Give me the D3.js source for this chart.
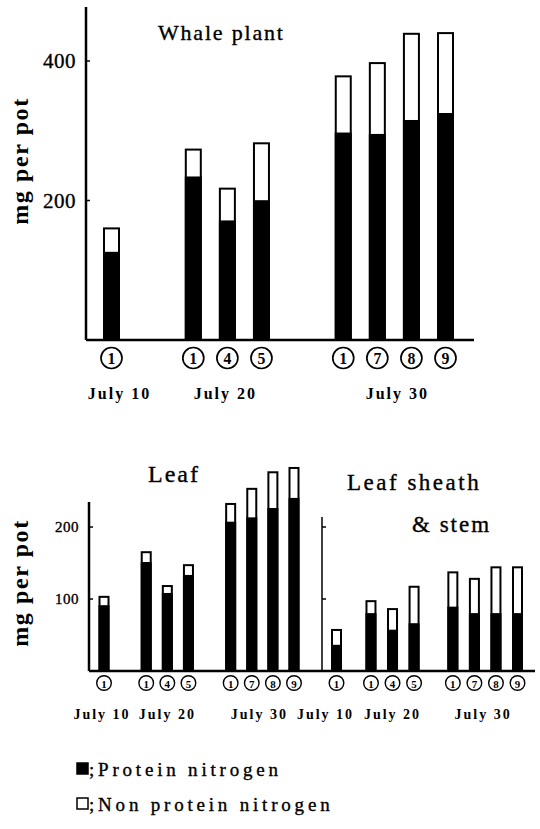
<!DOCTYPE html>
<html>
<head>
<meta charset="utf-8">
<script src="https://cdn.jsdelivr.net/npm/d3@7"></script>
<style>
  body { margin: 0; background: #fff; }
  text { font-family: "Liberation Serif", "Times New Roman", serif; fill: #000; }
  text.heavy { stroke: #000; stroke-width: 0.35px; }
</style>
</head>
<body>
<div id="chart"></div>
<script>
// dates and treatment numbers (drawn circled) for each group
const dates = ["July 10", "July 20", "July 30"];
const treatments = [[1], [1, 4, 5], [1, 7, 8, 9]];

// mg N per pot
const wholeProtein = [125, 233, 170, 199, 296, 294, 314, 324];
const wholeTotal   = [160, 273, 217, 282, 378, 397, 439, 440];
const leafProtein  = [90, 150, 107, 132, 206, 212, 225, 239];
const leafTotal    = [103, 165, 118, 147, 232, 253, 276, 282];
const sheathProtein = [35, 79, 56, 65, 88, 79, 79, 79];
const sheathTotal   = [57, 97, 86, 117, 137, 128, 144, 144];

const topTicks = [200, 400];
const bottomTicks = [100, 200];

const width = 540, height = 829;

const svg = d3.select("#chart").append("svg")
  .attr("width", width)
  .attr("height", height);

// flatten groups into bar list
const bars = [];
treatments.forEach((ts, g) => ts.forEach(t => bars.push({ group: g, label: t })));

function slots(gaps) {
  let extra = 0;
  return bars.map((b, i) => {
    if (i > 0 && bars[i - 1].group !== b.group) extra += gaps[b.group];
    return i + extra;
  });
}

function drawBars(p) {
  const pos = slots(p.gaps);
  const x = d3.scaleLinear().domain([0, d3.max(pos)]).range(p.xRange);
  const g = svg.append("g");

  bars.forEach((b, i) => {
    const cx = x(pos[i]);
    // non protein part (white box, full height)
    g.append("rect")
      .attr("x", cx - p.bw / 2)
      .attr("y", p.y(p.total[i]))
      .attr("width", p.bw)
      .attr("height", p.y(0) - p.y(p.total[i]))
      .attr("fill", "#fff")
      .attr("stroke", "#000")
      .attr("stroke-width", p.sw);
    // protein part
    g.append("rect")
      .attr("x", cx - p.bw / 2)
      .attr("y", p.y(p.protein[i]))
      .attr("width", p.bw)
      .attr("height", p.y(0) - p.y(p.protein[i]))
      .attr("fill", "#000")
      .attr("stroke", "#000")
      .attr("stroke-width", p.sw);
    // circled treatment number
    g.append("circle")
      .attr("cx", cx).attr("cy", p.labelY)
      .attr("r", p.circleR)
      .attr("fill", "none")
      .attr("stroke", "#000")
      .attr("stroke-width", p.circleR > 9 ? 1.7 : 1.4);
    g.append("text")
      .attr("x", cx)
      .attr("y", p.labelY + 0.5)
      .attr("text-anchor", "middle")
      .attr("dominant-baseline", "central")
      .style("font-size", p.circleR * 1.5 + "px")
      .style("font-weight", "bold")
      .text(b.label);
  });

  dates.forEach((d, gi) => {
    const idx = bars.map((b, i) => b.group === gi ? i : -1).filter(i => i >= 0);
    const cx = d3.mean(idx, i => x(pos[i])) + (p.dateShift[gi] || 0);
    g.append("text")
      .attr("x", cx)
      .attr("y", p.dateY)
      .attr("text-anchor", "middle")
      .attr("dominant-baseline", "central")
      .style("font-size", p.dateSize + "px")
      .style("font-weight", "bold")
      .style("letter-spacing", p.dateSpacing + "px")
      .text(d);
  });
}

function yAxis(y, x0, yTop, ticks, labels, fs, sw) {
  const g = svg.append("g");
  g.append("line")
    .attr("x1", x0).attr("x2", x0)
    .attr("y1", yTop).attr("y2", y(0))
    .attr("stroke", "#000").attr("stroke-width", sw);
  ticks.forEach(t => {
    g.append("line")
      .attr("x1", x0).attr("x2", x0 + 4)
      .attr("y1", y(t)).attr("y2", y(t))
      .attr("stroke", "#000").attr("stroke-width", 1.5);
    if (labels) {
      g.append("text")
        .attr("class", "heavy")
        .attr("x", x0 - 10)
        .attr("y", y(t))
        .attr("text-anchor", "end")
        .attr("dominant-baseline", "central")
        .style("font-size", fs + "px")
        .style("letter-spacing", "0.5px")
        .text(t);
    }
  });
}

// ---------- Whale plant ----------
const yTop = d3.scaleLinear().domain([0, 400]).range([340, 61]);

drawBars({
  y: yTop, total: wholeTotal, protein: wholeProtein,
  gaps: [0, 1.4, 1.4], xRange: [111.5, 445.5], bw: 15, sw: 2,
  labelY: 358, circleR: 10.5, dateY: 393, dateSize: 16, dateSpacing: 2,
  dateShift: [8, -2, 3]
});
yAxis(yTop, 86, 7, topTicks, true, 21, 2.5);
svg.append("line")
  .attr("x1", 86).attr("x2", 474)
  .attr("y1", yTop(0)).attr("y2", yTop(0))
  .attr("stroke", "#000").attr("stroke-width", 2.5);

svg.append("text")
  .attr("class", "heavy")
  .attr("x", 158).attr("y", 40)
  .style("font-size", "22px")
  .style("letter-spacing", "1.8px")
  .text("Whale plant");

svg.append("text")
  .attr("transform", "translate(28,161) rotate(-90)")
  .attr("text-anchor", "middle")
  .style("font-size", "24px")
  .style("font-weight", "bold")
  .style("letter-spacing", "1.6px")
  .text("mg per pot");

// ---------- Leaf / Leaf sheath & stem ----------
const yBot = d3.scaleLinear().domain([0, 200]).range([671, 527]);

drawBars({
  y: yBot, total: leafTotal, protein: leafProtein,
  gaps: [0, 1, 1], xRange: [104, 294], bw: 9, sw: 2,
  labelY: 683, circleR: 7.3, dateY: 714, dateSize: 14, dateSpacing: 2,
  dateShift: [-2, 0, -3]
});
drawBars({
  y: yBot, total: sheathTotal, protein: sheathProtein,
  gaps: [0, 0.6, 0.8], xRange: [336.5, 517.5], bw: 9, sw: 2,
  labelY: 683, circleR: 7.3, dateY: 714, dateSize: 14, dateSpacing: 2,
  dateShift: [-11, 0, -2]
});

yAxis(yBot, 89, 502, bottomTicks, true, 15, 2.5);
yAxis(yBot, 322, 517, bottomTicks, false, 15, 1.5);
svg.append("line")
  .attr("x1", 89).attr("x2", 535)
  .attr("y1", yBot(0)).attr("y2", yBot(0))
  .attr("stroke", "#000").attr("stroke-width", 2.5);

svg.append("text")
  .attr("class", "heavy")
  .attr("x", 148).attr("y", 482)
  .style("font-size", "24px")
  .style("letter-spacing", "2px")
  .text("Leaf");
svg.append("text")
  .attr("class", "heavy")
  .attr("x", 347).attr("y", 490)
  .style("font-size", "23px")
  .style("letter-spacing", "2.5px")
  .text("Leaf sheath");
svg.append("text")
  .attr("class", "heavy")
  .attr("x", 412).attr("y", 532)
  .style("font-size", "23px")
  .style("letter-spacing", "2px")
  .text("& stem");

svg.append("text")
  .attr("transform", "translate(28,583) rotate(-90)")
  .attr("text-anchor", "middle")
  .style("font-size", "24px")
  .style("font-weight", "bold")
  .style("letter-spacing", "1.6px")
  .text("mg per pot");

// ---------- legend ----------
const legend = [
  { fill: "#000", text: ";Protein nitrogen", y: 769 },
  { fill: "#fff", text: ";Non protein nitrogen", y: 804 }
];
legend.forEach(l => {
  svg.append("rect")
    .attr("x", 77).attr("y", l.y - 6)
    .attr("width", 11).attr("height", 11)
    .attr("fill", l.fill)
    .attr("stroke", "#000").attr("stroke-width", 1.5);
  svg.append("text")
    .attr("class", "heavy")
    .attr("x", 89).attr("y", l.y)
    .attr("dominant-baseline", "central")
    .style("font-size", "19px")
    .style("letter-spacing", "3.8px")
    .text(l.text);
});
</script>
</body>
</html>
